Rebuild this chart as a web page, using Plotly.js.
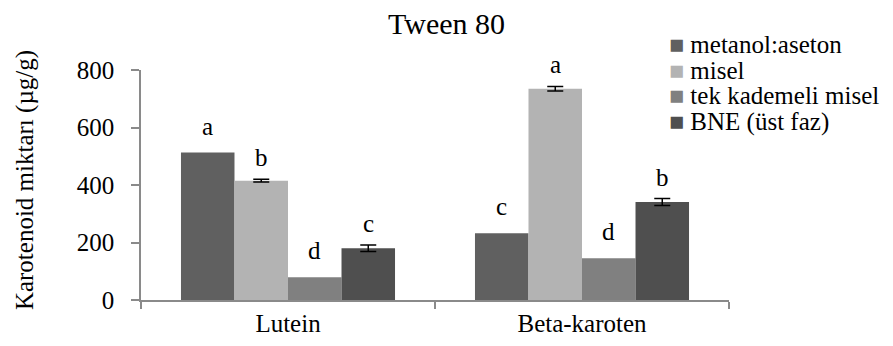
<!DOCTYPE html>
<html>
<head>
<meta charset="utf-8">
<script src="https://cdn.plot.ly/plotly-3.0.1.min.js"></script>
<style>html,body{margin:0;padding:0;background:#fff;}#chart{width:893px;height:346px;}</style>
</head>
<body>
<div id="chart"></div>
<script>
// ---- data ----
var categories = ["Lutein", "Beta-karoten"];
var seriesNames = ["metanol:aseton", "misel", "tek kademeli misel", "BNE (üst faz)"];
var metanolAseton = [513, 232];
var misel = [415, 735];
var tekKademeliMisel = [79, 145];
var bneUstFaz = [180, 341];
var metanolAsetonErr = [0, 0];
var miselErr = [5, 8];
var tekKademeliMiselErr = [0, 0];
var bneUstFazErr = [11, 12];
var metanolAsetonLetters = ["a", "c"];
var miselLetters = ["b", "a"];
var tekKademeliMiselLetters = ["d", "d"];
var bneUstFazLetters = ["c", "b"];
var yTicks = [0, 200, 400, 600, 800];
var chartTitle = "Tween 80";
var yAxisTitle = "Karotenoid miktarı (µg/g)";

// ---- styling ----
var colors = ["#606060", "#b3b3b3", "#808080", "#4f4f4f"];
var FONT = "Liberation Serif";
var bargap = 0.272;

var values = [metanolAseton, misel, tekKademeliMisel, bneUstFaz];
var errs = [metanolAsetonErr, miselErr, tekKademeliMiselErr, bneUstFazErr];
var letters = [metanolAsetonLetters, miselLetters, tekKademeliMiselLetters, bneUstFazLetters];

var traces = values.map(function (v, i) {
  var hasErr = errs[i].some(function (e) { return e > 0; });
  return {
    type: "bar",
    name: seriesNames[i],
    x: categories,
    y: v,
    marker: {color: colors[i], line: {width: 0}},
    error_y: {type: "data", array: errs[i], visible: hasErr, color: "#000", thickness: 1.5, width: 8},
    hoverinfo: "none",
    showlegend: false
  };
});

var barW = (1 - bargap) / values.length;
var annotations = [];
values.forEach(function (v, i) {
  v.forEach(function (val, j) {
    annotations.push({
      x: j + (i - (values.length - 1) / 2) * barW,
      y: val + errs[i][j],
      xref: "x", yref: "y",
      text: letters[i][j],
      showarrow: false,
      yanchor: "bottom",
      yshift: errs[i][j] > 0 ? 6 : 11,
      font: {family: FONT, size: 25, color: "#000"}
    });
  });
});

// chart title
annotations.push({
  text: chartTitle, xref: "paper", yref: "paper", x: 0.52, y: 1.204,
  xanchor: "center", yanchor: "middle", showarrow: false,
  font: {family: FONT, size: 30, color: "#000"}
});
// y-axis title
annotations.push({
  text: yAxisTitle, xref: "paper", yref: "paper", x: -0.197, y: 0.522,
  xanchor: "center", yanchor: "middle", textangle: -90, showarrow: false,
  font: {family: FONT, size: 25, color: "#000"}
});
// legend entries (built from series names and colours)
var legendTop = 1.109, legendStep = 0.111;
seriesNames.forEach(function (name, i) {
  annotations.push({
    text: "<span style='color:" + colors[i] + "'>■</span> " + name,
    xref: "paper", yref: "paper", x: 0.895, y: legendTop - i * legendStep,
    xanchor: "left", yanchor: "middle", showarrow: false, align: "left",
    font: {family: FONT, size: 25, color: "#000"}
  });
});

var layout = {
  width: 893, height: 346,
  margin: {l: 141, r: 164, t: 70, b: 46, pad: 0},
  paper_bgcolor: "#fff", plot_bgcolor: "#fff",
  barmode: "group",
  bargap: bargap,
  bargroupgap: 0,
  showlegend: false,
  font: {family: FONT, size: 25, color: "#000"},
  xaxis: {
    type: "category",
    showline: true, linecolor: "#8a8a8a", linewidth: 1.5,
    ticks: "outside", tickson: "boundaries", ticklen: 7, tickcolor: "#8a8a8a", tickwidth: 1.5,
    showgrid: false, zeroline: false,
    tickfont: {family: FONT, size: 25, color: "#000"},
    fixedrange: true
  },
  yaxis: {
    range: [0, 800],
    tickvals: yTicks,
    ticktext: yTicks.map(String),
    showline: true, linecolor: "#8a8a8a", linewidth: 1.5,
    ticks: "outside", ticklen: 8, tickcolor: "#8a8a8a", tickwidth: 1.5,
    ticklabelstandoff: 12,
    showgrid: false, zeroline: false,
    tickfont: {family: FONT, size: 25, color: "#000"},
    fixedrange: true
  },
  annotations: annotations
};

Plotly.newPlot("chart", traces, layout, {displayModeBar: false});
</script>
</body>
</html>
